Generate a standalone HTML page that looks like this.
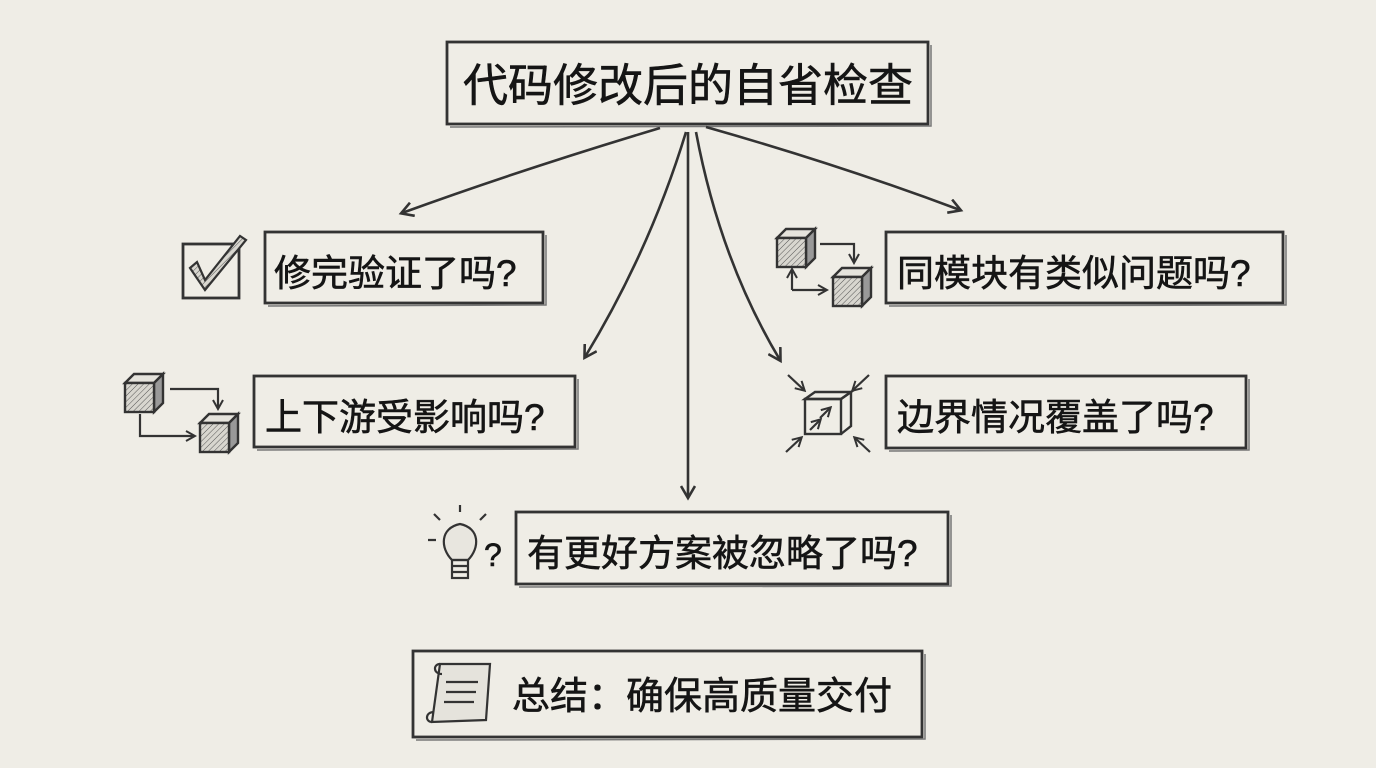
<!DOCTYPE html>
<html><head><meta charset="utf-8"><style>
html,body{margin:0;padding:0;background:#efede6;}
svg{display:block}
text{font-family:"Liberation Sans","Noto Sans CJK SC",sans-serif;fill:#151515;font-weight:400;stroke:#151515;stroke-width:0.6;}
</style></head><body>
<svg width="1376" height="768" viewBox="0 0 1376 768" xmlns="http://www.w3.org/2000/svg">
<defs>
<pattern id="h" width="4" height="4" patternUnits="userSpaceOnUse" patternTransform="rotate(45)"><rect width="4" height="4" fill="#d8d6cf"/><line x1="0" y1="0" x2="0" y2="4" stroke="#555" stroke-width="1"/></pattern>
<marker id="a" markerWidth="16" markerHeight="16" refX="12" refY="8" orient="auto" markerUnits="userSpaceOnUse"><path d="M1,1 L13,8 L1,15" fill="none" stroke="#333" stroke-width="2.6"/></marker>
<marker id="s" markerWidth="12" markerHeight="12" refX="9" refY="6" orient="auto" markerUnits="userSpaceOnUse"><path d="M1,1 L10,6 L1,11" fill="none" stroke="#333" stroke-width="2"/></marker>
<g id="cube"><path d="M0,9 L9,0 L38,0 L29,9 Z" fill="#e5e3dc" stroke="#333" stroke-width="2.4"/><path d="M29,9 L38,0 L38,29 L29,38 Z" fill="#999" stroke="#333" stroke-width="2.4"/><rect x="0" y="9" width="29" height="29" fill="url(#h)" stroke="#333" stroke-width="2.4"/></g>
</defs>
<rect width="1376" height="768" fill="#efede6"/>
<g fill="none" stroke="#333" stroke-width="2.8">
<rect x="447" y="42" width="481" height="82"/><path d="M450,127 L931,126 L931,45" stroke="#777" stroke-width="1.5"/>
<rect x="265" y="232" width="278" height="71"/><path d="M268,306 L546,305 L546,235" stroke="#777" stroke-width="1.5"/>
<rect x="886" y="232" width="397" height="71"/><path d="M889,306 L1286,305 L1286,235" stroke="#777" stroke-width="1.5"/>
<rect x="254" y="376" width="321" height="71"/><path d="M257,450 L578,449 L578,379" stroke="#777" stroke-width="1.5"/>
<rect x="886" y="376" width="360" height="72"/><path d="M889,451 L1249,450 L1249,379" stroke="#777" stroke-width="1.5"/>
<rect x="516" y="512" width="432" height="72"/><path d="M519,587 L951,586 L951,515" stroke="#777" stroke-width="1.5"/>
<rect x="413" y="651" width="509" height="86"/><path d="M416,740 L925,739 L925,654" stroke="#777" stroke-width="1.5"/>
</g>
<text x="688" y="101" font-size="45" text-anchor="middle">代码修改后的自省检查</text>
<text x="274" y="286" font-size="37">修完验证了吗?</text>
<text x="897" y="286" font-size="37">同模块有类似问题吗?</text>
<text x="265" y="430" font-size="37">上下游受影响吗?</text>
<text x="897" y="430" font-size="37">边界情况覆盖了吗?</text>
<text x="527" y="566" font-size="37">有更好方案被忽略了吗?</text>
<text x="512" y="709" font-size="38">总结：确保高质量交付</text>
<g fill="none" stroke="#333" stroke-width="2.6" marker-end="url(#a)">
<path d="M660,128 Q520,170 402,213"/>
<path d="M686,132 Q650,250 585,357"/>
<path d="M688,132 L688,497"/>
<path d="M696,132 Q720,260 780,360"/>
<path d="M706,127 Q840,165 960,210"/>
</g>
<rect x="183" y="244" width="56" height="54" fill="none" stroke="#333" stroke-width="2.8"/>
<path d="M190,268 L205,290 L246,240 L240,236 L205,280 L197,262 Z" fill="url(#h)" stroke="#333" stroke-width="2.2"/>
<use href="#cube" x="125" y="374"/><use href="#cube" x="200" y="414"/>
<g fill="none" stroke="#333" stroke-width="2.2" marker-end="url(#s)"><path d="M170,389 L218,389 L218,408"/><path d="M140,414 L140,436 L194,436"/></g>
<use href="#cube" x="777" y="229"/><use href="#cube" x="833" y="268"/>
<g fill="none" stroke="#333" stroke-width="2.2" marker-end="url(#s)"><path d="M820,244 L854,244 L854,262"/><path d="M792,290 L826,290"/><path d="M792,290 L792,270"/></g>
<g fill="none" stroke="#333" stroke-width="2.4"><path d="M805,399 L815,392 L851,392 L841,399 Z"/><rect x="805" y="399" width="36" height="35"/><path d="M841,399 L851,392 L851,426 L841,434"/></g>
<g fill="none" stroke="#333" stroke-width="2.2" marker-end="url(#s)"><path d="M788,375 L804,390"/><path d="M869,375 L853,390"/><path d="M786,452 L801,438"/><path d="M870,452 L855,438"/><path d="M810,430 L820,420"/><path d="M820,418 L830,408"/></g>
<g fill="none" stroke="#333" stroke-width="2.2"><path d="M452,560 C440,548 440,528 460,524 C480,528 480,548 468,560 Z" fill="#e8e6df"/><rect x="452" y="560" width="16" height="18"/><path d="M452,566 L468,566 M452,572 L468,572"/><path d="M460,512 L460,505 M440,520 L434,514 M480,520 L486,514 M436,540 L428,540"/></g>
<text x="484" y="566" font-size="32">?</text>
<g fill="none" stroke="#333" stroke-width="2.2"><path d="M440,664 L490,664 L486,720 L432,722 Z" fill="#e5e3dc"/><path d="M432,722 C425,722 425,712 434,712"/><path d="M440,664 C433,664 433,674 442,674"/><path d="M446,682 L478,682 M446,692 L476,692 M444,702 L474,702"/></g>
</svg>
</body></html>
